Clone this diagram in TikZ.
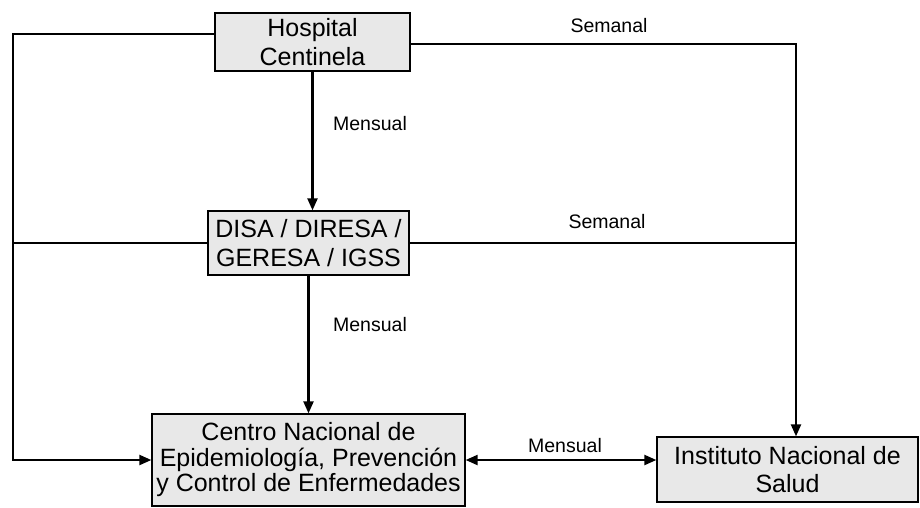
\documentclass[tikz,border=0pt]{standalone}
\usepackage{fontspec}
\setmainfont{Liberation Sans}
\usetikzlibrary{arrows.meta}
\tikzset{
  x=1pt, y=-1pt,
  box/.style={draw=black, line width=1.3pt, fill=black!9, inner sep=0pt, align=center,
    font=\fontsize{25}{28.5}\selectfont},
  lbl/.style={inner sep=0pt, font=\fontsize{19.5}{22}\selectfont},
  conn/.style={draw=black, line width=2.2pt},
  tip/.style={-{Triangle[length=12pt,width=10pt]}},
}
\begin{document}
\begin{tikzpicture}
\useasboundingbox (0,0) rectangle (920,507);
% boxes
\node[box, minimum width=195pt, minimum height=58pt] (hosp) at (312.5,42) {Hospital\\Centinela};
\node[box, minimum width=201pt, minimum height=64pt] (disa) at (308.5,243) {DISA / DIRESA /\\GERESA / IGSS};
\node[box, minimum width=313pt, minimum height=92pt, font=\fontsize{25}{25.5}\selectfont] (cen) at (308.5,460) {Centro Nacional de\\Epidemiología, Prevención\\y Control de Enfermedades};
\node[box, minimum width=261pt, minimum height=65pt] (ins) at (787.5,469.5) {Instituto Nacional de\\Salud};
% helper coordinates
\coordinate (L1) at (13,34);
\coordinate (L2) at (13,460);
\coordinate (R1) at (796,44);
% left loop
\draw[conn, tip] ([yshift=8pt]hosp.west) -- (L1) -- (L2) -- (cen.west);
\draw[conn] (disa.west) -- (disa.west -| L1);
% right loop
\draw[conn, tip] ([yshift=-2pt]hosp.east) -- (R1) -- (R1 |- ins.north);
\draw[conn] (disa.east) -- (disa.east -| R1);
% vertical arrows
\draw[conn, tip] (hosp.south) -- (hosp.south |- disa.north);
\draw[conn, tip] (disa.south) -- (disa.south |- cen.north);
% double arrow
\draw[conn, {Triangle[length=12pt,width=10pt]}-{Triangle[length=12pt,width=10pt]}] (cen.east) -- (cen.east -| ins.west);
% labels
\node[lbl] (s1) at (609,26) {Semanal};
\node[lbl] (s2) at (607,222) {Semanal};
\node[lbl] (m1) at (370,124) {Mensual};
\node[lbl] (m2) at (370,325) {Mensual};
\node[lbl] (m3) at (565,446) {Mensual};
\end{tikzpicture}
\end{document}
